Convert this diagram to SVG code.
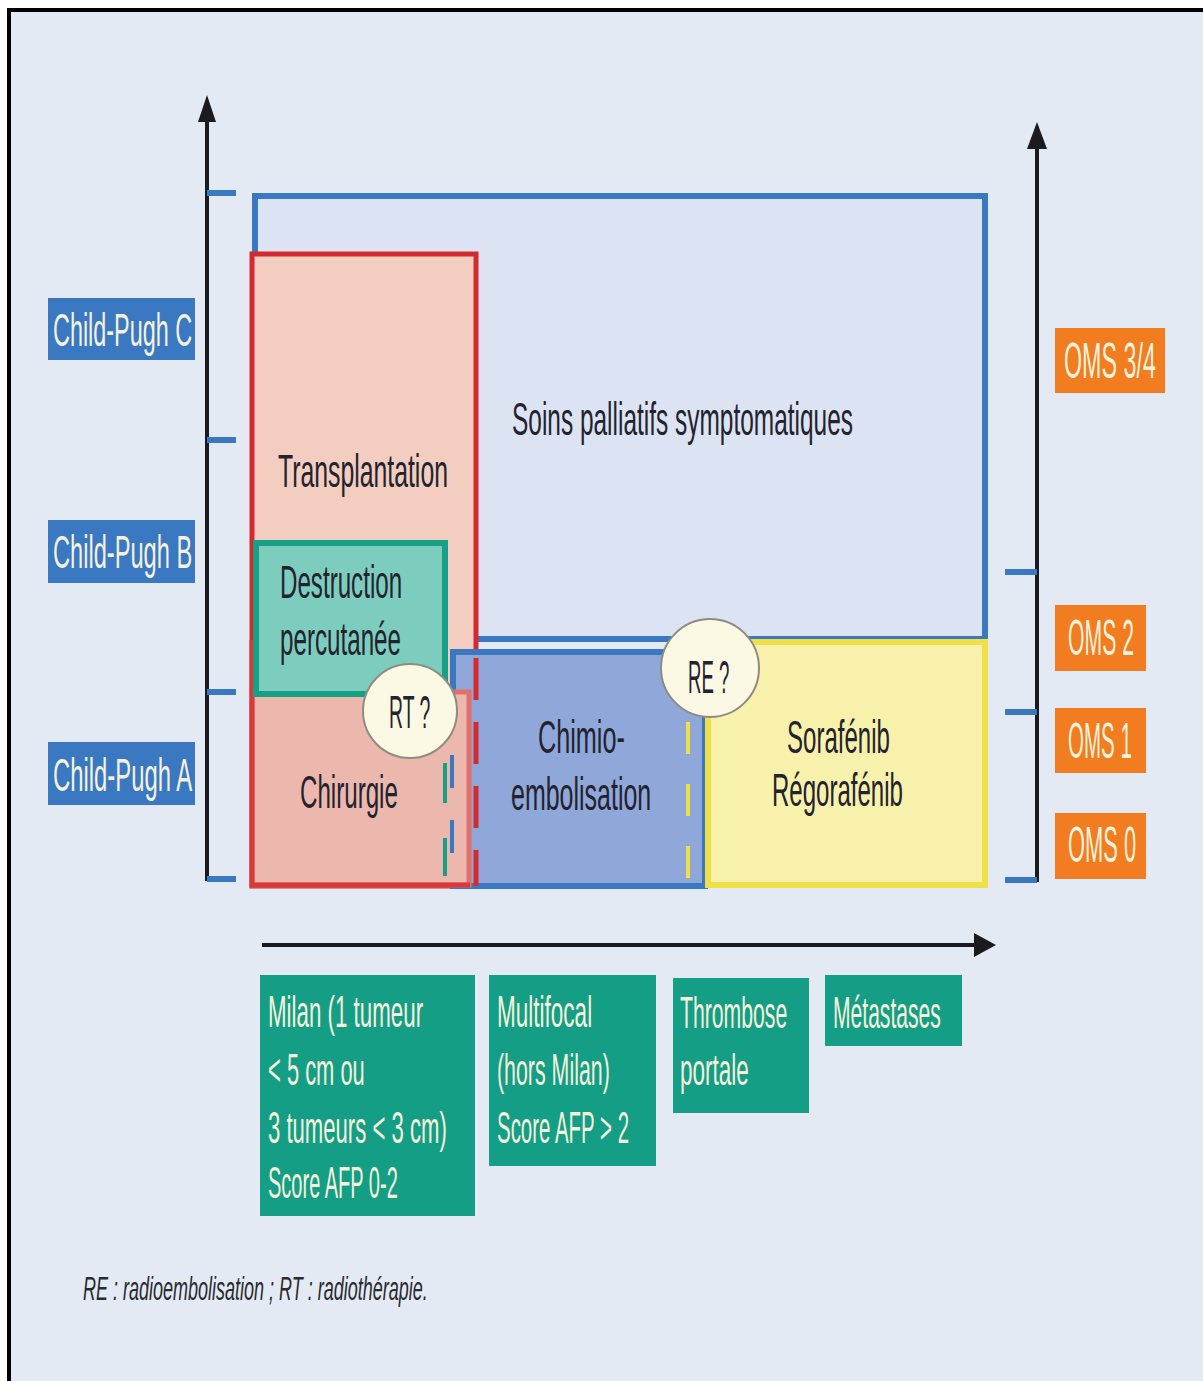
<svg xmlns="http://www.w3.org/2000/svg" width="1203" height="1381" viewBox="0 0 1203 1381">
  <defs>
    <style>
      .t { font-family: "Liberation Sans Narrow", "Liberation Sans", Arial, sans-serif; }
      .dark { fill: #23232e; font-size: 46px; }
      .lt { fill: #f5f2dc; }
      .cp { fill: #3b78c2; }
      .oms { fill: #f27c20; }
      .crit { fill: #149e85; }
      .axis { stroke: #1b1b1f; stroke-width: 4; fill: none; }
      .tick { stroke: #3b78c2; stroke-width: 6; fill: none; }
      .circ { fill: #fbf8e3; stroke: #8e8c82; stroke-width: 2; }
    </style>
  </defs>

  <!-- page background and frame -->
  <rect x="0" y="0" width="1203" height="1381" fill="#ffffff"/>
  <rect x="9" y="10" width="1194" height="1371" fill="#e3eaf3"/>
  <path d="M9,1381 V10 H1203" fill="none" stroke="#000" stroke-width="4"/>

  <!-- axes -->
  <g id="connectors">
    <line class="axis" x1="207" y1="118" x2="207" y2="881"/>
    <polygon points="207,95 198,122 216,122" fill="#1b1b1f"/>
    <line class="axis" x1="1037" y1="145" x2="1037" y2="882"/>
    <polygon points="1037,122 1027,149 1047,149" fill="#1b1b1f"/>
    <line class="axis" x1="262" y1="945" x2="976" y2="945"/>
    <polygon points="996,945 974,933 974,957" fill="#1b1b1f"/>
    <!-- Child-Pugh ticks -->
    <path class="tick" d="M207,193 H236 M207,440 H236 M207,692 H236 M207,879 H236"/>
    <!-- OMS ticks -->
    <path class="tick" d="M1005,572 H1037 M1005,712 H1037 M1005,880 H1037"/>
  </g>

  <!-- Soins palliatifs symptomatiques -->
  <g id="soins">
    <polygon points="255,196 985,196 985,639 478,639 478,252 255,252" fill="#dce3f3"/>
    <path d="M255,252 V196 H985 V639 H478" fill="none" stroke="#3b78c2" stroke-width="6"/>
    <text class="t dark" transform="translate(512,435) scale(0.55,1)" textLength="620" lengthAdjust="spacingAndGlyphs">Soins palliatifs symptomatiques</text>
  </g>

  <!-- Transplantation -->
  <g id="transplantation">
    <rect x="252" y="254" width="224" height="632" fill="#f3cec0" stroke="#d42a2f" stroke-width="5"/>
    <text class="t dark" transform="translate(278,487) scale(0.55,1)" textLength="309" lengthAdjust="spacingAndGlyphs">Transplantation</text>
  </g>

  <!-- Chimio-embolisation -->
  <g id="chimio">
    <rect x="453" y="652" width="252" height="234" fill="#8fa8d9" stroke="#3b78c2" stroke-width="6"/>
    <path d="M476,658 V886" fill="none" stroke="#d42a2f" stroke-width="5" stroke-dasharray="42 22"/>
    <text class="t dark" transform="translate(538,753) scale(0.55,1)" textLength="158" lengthAdjust="spacingAndGlyphs">Chimio-</text>
    <text class="t dark" transform="translate(511,810) scale(0.55,1)" textLength="255" lengthAdjust="spacingAndGlyphs">embolisation</text>
  </g>

  <!-- Chirurgie -->
  <g id="chirurgie">
    <rect x="252" y="692" width="217" height="193" fill="#ecb8ae" stroke="#e0706b" stroke-width="5"/>
    <path d="M252,640 V885 H470" fill="none" stroke="#d83a3a" stroke-width="5"/>
    <path d="M445,763 V876" fill="none" stroke="#16a085" stroke-width="4" stroke-dasharray="40 35"/>
    <path d="M452,755 V876" fill="none" stroke="#3b78c2" stroke-width="4" stroke-dasharray="33 32"/>
    <text class="t dark" transform="translate(300,808) scale(0.55,1)" textLength="178" lengthAdjust="spacingAndGlyphs">Chirurgie</text>
  </g>

  <!-- Destruction percutanée -->
  <g id="destruction">
    <rect x="256" y="543" width="189" height="151" fill="#7dcdbf" stroke="#16a085" stroke-width="6"/>
    <text class="t dark" transform="translate(280,598) scale(0.55,1)" textLength="222" lengthAdjust="spacingAndGlyphs">Destruction</text>
    <text class="t dark" transform="translate(280,655) scale(0.55,1)" textLength="220" lengthAdjust="spacingAndGlyphs">percutanée</text>
  </g>

  <!-- Sorafénib / Régorafénib -->
  <g id="sorafenib">
    <rect x="708" y="642" width="277" height="243" fill="#f8f1ac" stroke="#f0e048" stroke-width="6"/>
    <path d="M688,722 V884" fill="none" stroke="#f0e048" stroke-width="4" stroke-dasharray="32 30"/>
    <text class="t dark" transform="translate(787,753) scale(0.55,1)" textLength="187" lengthAdjust="spacingAndGlyphs">Sorafénib</text>
    <text class="t dark" transform="translate(772,806) scale(0.55,1)" textLength="238" lengthAdjust="spacingAndGlyphs">Régorafénib</text>
  </g>

  <!-- RT ? -->
  <g id="rt">
    <circle class="circ" cx="410" cy="711" r="47"/>
    <text class="t dark" transform="translate(389,728) scale(0.55,1)" textLength="75" lengthAdjust="spacingAndGlyphs">RT ?</text>
  </g>

  <!-- RE ? -->
  <g id="re">
    <circle class="circ" cx="710" cy="668" r="49"/>
    <text class="t dark" transform="translate(688,693) scale(0.55,1)" textLength="75" lengthAdjust="spacingAndGlyphs">RE ?</text>
  </g>

  <!-- Child-Pugh scale -->
  <g id="child-pugh-c">
    <rect class="cp" x="48" y="298" width="147" height="62"/>
    <text class="t lt" transform="translate(53,346) scale(0.55,1)" font-size="47" textLength="253" lengthAdjust="spacingAndGlyphs">Child-Pugh C</text>
  </g>
  <g id="child-pugh-b">
    <rect class="cp" x="48" y="520" width="147" height="63"/>
    <text class="t lt" transform="translate(53,568) scale(0.55,1)" font-size="47" textLength="253" lengthAdjust="spacingAndGlyphs">Child-Pugh B</text>
  </g>
  <g id="child-pugh-a">
    <rect class="cp" x="48" y="742" width="147" height="63"/>
    <text class="t lt" transform="translate(53,791) scale(0.55,1)" font-size="47" textLength="253" lengthAdjust="spacingAndGlyphs">Child-Pugh A</text>
  </g>

  <!-- OMS scale -->
  <g id="oms-34">
    <rect class="oms" x="1055" y="328" width="110" height="65"/>
    <text class="t lt" transform="translate(1064,378) scale(0.55,1)" font-size="50" textLength="167" lengthAdjust="spacingAndGlyphs">OMS 3/4</text>
  </g>
  <g id="oms-2">
    <rect class="oms" x="1055" y="605" width="91" height="66"/>
    <text class="t lt" transform="translate(1068,655) scale(0.55,1)" font-size="50" textLength="120" lengthAdjust="spacingAndGlyphs">OMS 2</text>
  </g>
  <g id="oms-1">
    <rect class="oms" x="1055" y="708" width="91" height="65"/>
    <text class="t lt" transform="translate(1068,758) scale(0.55,1)" font-size="50" textLength="116" lengthAdjust="spacingAndGlyphs">OMS 1</text>
  </g>
  <g id="oms-0">
    <rect class="oms" x="1055" y="813" width="91" height="66"/>
    <text class="t lt" transform="translate(1068,862) scale(0.55,1)" font-size="50" textLength="124" lengthAdjust="spacingAndGlyphs">OMS 0</text>
  </g>

  <!-- tumour criteria -->
  <g id="milan">
    <rect class="crit" x="260" y="975" width="215" height="241"/>
    <g class="t lt" font-size="44">
      <text transform="translate(268,1027) scale(0.55,1)" textLength="282" lengthAdjust="spacingAndGlyphs">Milan (1 tumeur</text>
      <text transform="translate(268,1085) scale(0.55,1)" textLength="176" lengthAdjust="spacingAndGlyphs">&lt; 5 cm ou</text>
      <text transform="translate(268,1143) scale(0.55,1)" textLength="325" lengthAdjust="spacingAndGlyphs">3 tumeurs &lt; 3 cm)</text>
      <text transform="translate(268,1198) scale(0.55,1)" textLength="236" lengthAdjust="spacingAndGlyphs">Score AFP 0-2</text>
    </g>
  </g>
  <g id="multifocal">
    <rect class="crit" x="489" y="975" width="167" height="191"/>
    <g class="t lt" font-size="44">
      <text transform="translate(497,1027) scale(0.55,1)" textLength="173" lengthAdjust="spacingAndGlyphs">Multifocal</text>
      <text transform="translate(497,1085) scale(0.55,1)" textLength="205" lengthAdjust="spacingAndGlyphs">(hors Milan)</text>
      <text transform="translate(497,1143) scale(0.55,1)" textLength="240" lengthAdjust="spacingAndGlyphs">Score AFP &gt; 2</text>
    </g>
  </g>
  <g id="thrombose">
    <rect class="crit" x="673" y="978" width="136" height="135"/>
    <g class="t lt" font-size="44">
      <text transform="translate(680,1028) scale(0.55,1)" textLength="195" lengthAdjust="spacingAndGlyphs">Thrombose</text>
      <text transform="translate(680,1085) scale(0.55,1)" textLength="125" lengthAdjust="spacingAndGlyphs">portale</text>
    </g>
  </g>
  <g id="metastases">
    <rect class="crit" x="825" y="975" width="137" height="71"/>
    <text class="t lt" transform="translate(833,1028) scale(0.55,1)" font-size="44" textLength="196" lengthAdjust="spacingAndGlyphs">Métastases</text>
  </g>

  <!-- abbreviations -->
  <text class="t" transform="translate(83,1300) scale(0.55,1)" font-size="34" font-style="italic" fill="#2a2a30" textLength="627" lengthAdjust="spacingAndGlyphs">RE : radioembolisation ; RT : radiothérapie.</text>
</svg>
